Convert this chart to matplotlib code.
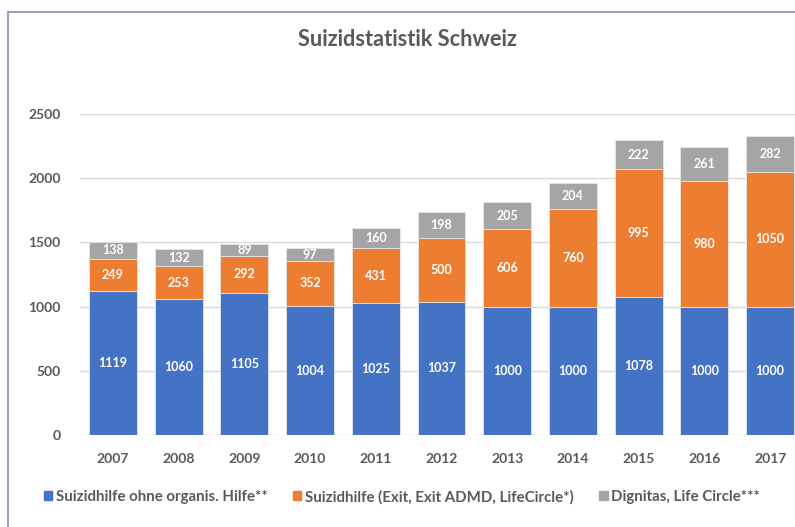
import numpy as np
import matplotlib
matplotlib.use("Agg")
import matplotlib.pyplot as plt
from matplotlib.patches import Rectangle

plt.rcParams['font.family'] = ['Lato', 'DejaVu Sans']

# data
years = ['2007', '2008', '2009', '2010', '2011', '2012', '2013', '2014', '2015', '2016', '2017']
ohne_org = [1119, 1060, 1105, 1004, 1025, 1037, 1000, 1000, 1078, 1000, 1000]
exit_org = [249, 253, 292, 352, 431, 500, 606, 760, 995, 980, 1050]
dignitas = [138, 132, 89, 97, 160, 198, 205, 204, 222, 261, 282]
series_names = ['Suizidhilfe ohne organis. Hilfe**',
                'Suizidhilfe (Exit, Exit ADMD, LifeCircle*)',
                'Dignitas, Life Circle***']
colors = ['#4472C4', '#ED7D31', '#A5A5A5']
text_grey = '#595959'

W, H = 795, 527
fig = plt.figure(figsize=(W / 100, H / 100), dpi=100)

# outer chart frame (cut off at right/bottom like the screenshot)
fig.patches.append(Rectangle((8 / W, -0.1), 1.2, 1 - 12 / H + 0.1,
                             transform=fig.transFigure, fill=False,
                             edgecolor='#7F8FB5', lw=1.2))

ax = fig.add_axes([80 / W, (H - 435) / H, 723 / W, 321 / H])

x = np.arange(len(years))
bottom = np.zeros(len(years))
for vals, col in zip([ohne_org, exit_org, dignitas], colors):
    vals = np.array(vals)
    ax.bar(x, vals, width=0.73, bottom=bottom, color=col,
           edgecolor='#E6E6E6', linewidth=0.6, zorder=3)
    for xi, b, v in zip(x, bottom, vals):
        ax.text(xi, b + v / 2, str(v), ha='center', va='center',
                color='white', fontsize=9, fontweight='bold', zorder=4)
    bottom = bottom + vals

ax.set_xlim(-0.5, len(years) - 0.5)
ax.set_ylim(0, 2500)
ax.set_yticks(np.arange(0, 2501, 500))
ax.set_xticks(x)
ax.set_xticklabels(years)
ax.grid(axis='y', color='#D9D9D9', lw=1, zorder=0)
for s in ax.spines.values():
    s.set_visible(False)
ax.tick_params(length=0, labelsize=10, labelcolor=text_grey)
ax.tick_params(axis='x', pad=13)
ax.tick_params(axis='y', pad=14)
for lab in ax.get_xticklabels() + ax.get_yticklabels():
    lab.set_fontweight('bold')

fig.text(407 / W, 1 - 40 / H, 'Suizidstatistik Schweiz', ha='center', va='center',
         fontsize=15.7, fontweight='bold', color=text_grey)

handles = [Rectangle((0, 0), 1, 1, color=c) for c in colors]
leg = fig.legend(handles, series_names, loc='center', ncol=3,
                 bbox_to_anchor=(402 / W, 1 - 497 / H), frameon=False,
                 handlelength=0.55, handleheight=0.55, handletextpad=0.25,
                 columnspacing=1.7, prop={'size': 10.8, 'weight': 'bold'})
for t in leg.get_texts():
    t.set_color(text_grey)

fig.savefig('out.png', dpi=100)
